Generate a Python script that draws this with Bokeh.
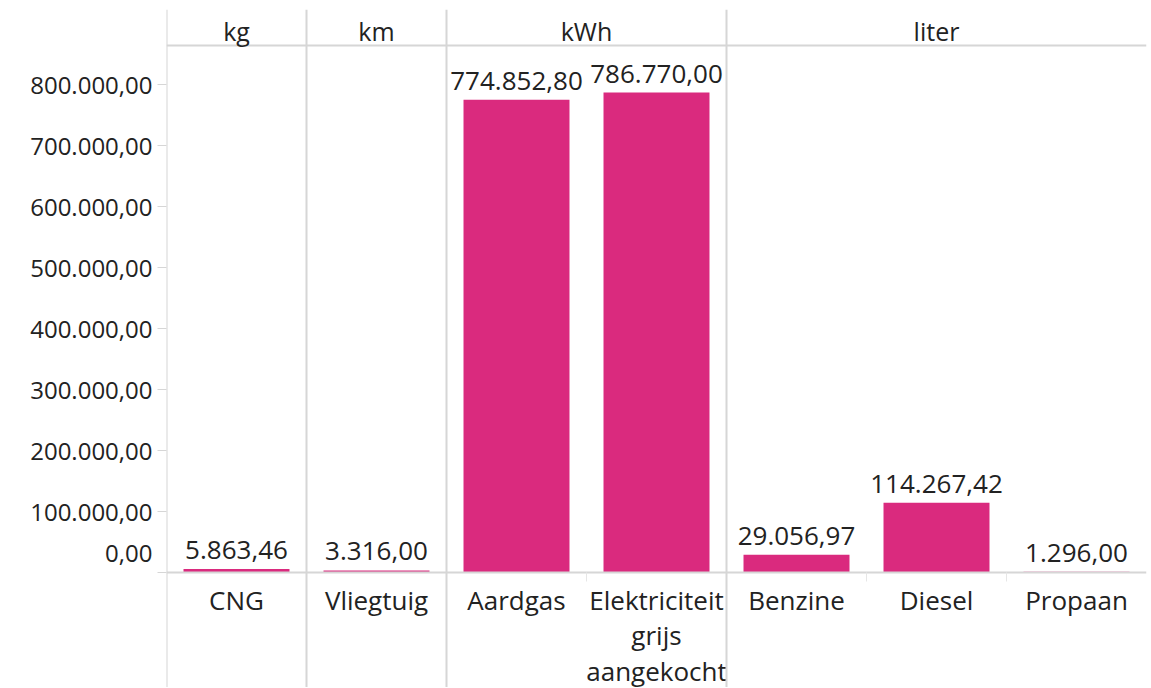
import textwrap
from bokeh.plotting import figure
from bokeh.models import ColumnDataSource, Range1d, FixedTicker, Span
from bokeh.core.properties import value
from bokeh.embed import file_html
from bokeh.resources import INLINE

# ---------------- data ----------------
units = ["kg", "km", "kWh", "kWh", "liter", "liter", "liter"]
categories = ["CNG", "Vliegtuig", "Aardgas", "Elektriciteit grijs aangekocht",
              "Benzine", "Diesel", "Propaan"]
values = [5863.46, 3316.00, 774852.80, 786770.00, 29056.97, 114267.42, 1296.00]
y_ticks = [0, 100000, 200000, 300000, 400000, 500000, 600000, 700000, 800000]


def nl(v):
    s = f"{v:,.2f}"
    return s.replace(",", "#").replace(".", ",").replace("#", ".")


# ---------------- layout ----------------
FONT = "Open Sans"
TXT = "#222222"
LINE = "#d6d6d6"
BAR = "#DA2A7E"

W, H = 1150, 687
TOP, LEFT, RIGHT = 9, 166, 4
FRAME_H = H - TOP
ZERO_PX = 563          # distance of value 0 from frame top
PX800 = 488            # pixels for 800.000
k = 800000 / PX800     # data units per pixel

y_end = ZERO_PX * k
y_start = -(FRAME_H - ZERO_PX) * k
n = len(categories)

p = figure(width=W, height=H, output_backend="svg", toolbar_location=None,
           x_range=Range1d(0, n), y_range=Range1d(y_start, y_end),
           x_axis_location=None, min_border_left=LEFT, min_border_right=RIGHT,
           min_border_top=TOP, min_border_bottom=0)
p.outline_line_color = None
p.grid.visible = False
p.background_fill_color = "white"
p.border_fill_color = "white"

# y axis
ax = p.yaxis[0]
ax.ticker = FixedTicker(ticks=y_ticks)
ax.major_label_overrides = {t: (nl(t) if t != 0 else nl(t) + "\n ") for t in y_ticks}
ax.axis_line_color = None
ax.major_tick_out = 9
ax.major_tick_in = 0
ax.major_tick_line_color = LINE
ax.minor_tick_line_color = None
ax.major_label_standoff = 5
ax.major_label_text_font = FONT
ax.major_label_text_font_size = "24px"
ax.major_label_text_color = TXT

xs = [i + 0.5 for i in range(n)]

# bars
src = ColumnDataSource(dict(x=xs, top=values,
                            lbl=[nl(v) for v in values],
                            ly=[v + 19 * k for v in values]))
p.vbar(x="x", top="top", bottom=0, width=0.757, source=src,
       fill_color=BAR, line_color=None)
p.text(x="x", y="ly", text="lbl", source=src, text_align="center",
       text_baseline="alphabetic", text_font=value(FONT),
       text_font_size="26px", text_color=TXT)

# baseline + header line
p.segment(x0=[0, 0], x1=[n, n], y0=[0, (ZERO_PX - 36) * k],
          y1=[0, (ZERO_PX - 36) * k], line_color=LINE, line_width=2)

# group separators and header labels
bounds = [0]
for i in range(1, n):
    if units[i] != units[i - 1]:
        bounds.append(i)
for b in bounds:
    p.add_layout(Span(location=b, dimension="height", line_color=LINE, line_width=2))
ends = bounds[1:] + [n]
p.text(x=[(a + b) / 2 for a, b in zip(bounds, ends)],
       y=[(ZERO_PX - 21) * k] * len(bounds),
       text=[units[a] for a in bounds], text_align="center",
       text_baseline="middle", text_font=value(FONT), text_font_size="25px",
       text_color=TXT)

# inner ticks between categories of the same group
inner = [i for i in range(1, n) if units[i] == units[i - 1]]
p.segment(x0=inner, x1=inner, y0=[0] * len(inner), y1=[-9 * k] * len(inner),
          line_color="#e6e6e6", line_width=1)

# category labels (wrapped)
cx, cy, ct = [], [], []
for i, c in enumerate(categories):
    for j, line in enumerate(textwrap.wrap(c, 13)):
        cx.append(xs[i])
        cy.append(-(27 + 35.5 * j) * k)
        ct.append(line)
p.text(x=cx, y=cy, text=ct, text_align="center", text_baseline="middle",
       text_font=value(FONT), text_font_size="26px", text_color=TXT)

open("out.html", "w").write(file_html(p, INLINE))
